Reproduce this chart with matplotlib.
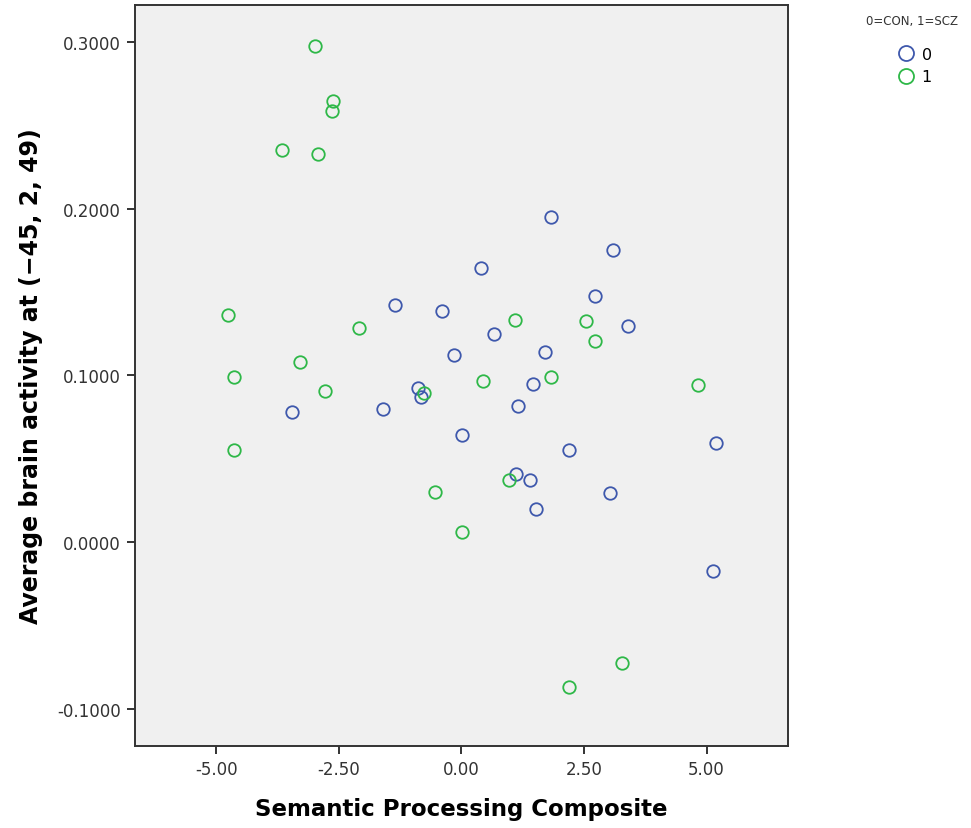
import matplotlib
matplotlib.use("Agg")
import matplotlib.pyplot as plt
from matplotlib.ticker import FormatStrFormatter, FixedLocator

# 0 = CON
con_x = [1.83, 3.09, 0.39, 2.73, -1.36, -0.40, 3.40, 0.67, -0.16, 1.71, -0.89, -0.83,
         1.46, -1.60, -3.46, 1.16, 0.01, 2.20, 5.20, 1.11, 1.40, 3.03, 1.52, 5.13]
con_y = [0.1951, 0.1753, 0.1645, 0.1478, 0.1424, 0.1385, 0.1298, 0.1249, 0.1122, 0.1142,
         0.0924, 0.0868, 0.0947, 0.0798, 0.0779, 0.0816, 0.0642, 0.0550, 0.0592, 0.0408,
         0.0372, 0.0292, 0.0198, -0.0172]

# 1 = SCZ
scz_x = [-2.99, -2.63, -2.65, -3.67, -2.93, -4.77, -2.09, -3.30, -4.63, -2.78, -4.63,
         -0.76, -0.54, 0.01, 0.43, 1.10, 0.97, 1.82, 2.54, 2.72, 4.83, 2.19, 3.27]
scz_y = [0.2977, 0.2647, 0.2587, 0.2353, 0.2329, 0.1363, 0.1283, 0.1079, 0.0989, 0.0905,
         0.0554, 0.0894, 0.0300, 0.0062, 0.0968, 0.1334, 0.0370, 0.0989, 0.1325, 0.1206,
         0.0944, -0.0868, -0.0728]

x_ticks = [-5.0, -2.5, 0.0, 2.5, 5.0]
y_ticks = [-0.1, 0.0, 0.1, 0.2, 0.3]

blue = "#3e58ac"
green = "#2eb848"

fig = plt.figure(figsize=(9.71, 8.29), dpi=100)
ax = fig.add_axes([0.139, 0.099, 0.6725, 0.894])
ax.set_facecolor("#f0f0f0")

ax.plot(con_x, con_y, "o", ls="none", ms=9, mfc="none", mec=blue, mew=1.3, label="0")
ax.plot(scz_x, scz_y, "o", ls="none", ms=9, mfc="none", mec=green, mew=1.3, label="1")

ax.set_xlim(-6.66, 6.66)
ax.set_ylim(-0.1224, 0.3224)
ax.xaxis.set_major_locator(FixedLocator(x_ticks))
ax.yaxis.set_major_locator(FixedLocator(y_ticks))
ax.xaxis.set_major_formatter(FormatStrFormatter("%.2f"))
ax.yaxis.set_major_formatter(FormatStrFormatter("%.4f"))

for s in ax.spines.values():
    s.set_color("#333333")
    s.set_linewidth(1.4)
ax.tick_params(direction="out", length=6, width=1.4, color="#333333",
               labelsize=12, labelcolor="#333333", pad=4)

ax.set_xlabel("Semantic Processing Composite", fontsize=16.5, fontweight="bold", labelpad=14)
ax.set_ylabel("Average brain activity at (\u221245, 2, 49)", fontsize=17,
              fontweight="bold", labelpad=10)

# legend: title placed separately, entries below it
fig.text(912 / 971, 1 - 22 / 829, "0=CON, 1=SCZ", fontsize=8.5, color="#333333",
         ha="center", va="center")
fig.legend(loc="upper center", bbox_to_anchor=(914 / 971, 1 - 40 / 829), frameon=False,
           fontsize=11.5, handletextpad=0.4, labelspacing=0.45, markerscale=1.2,
           borderpad=0, handlelength=1.2)

fig.savefig("out.png", dpi=100)
